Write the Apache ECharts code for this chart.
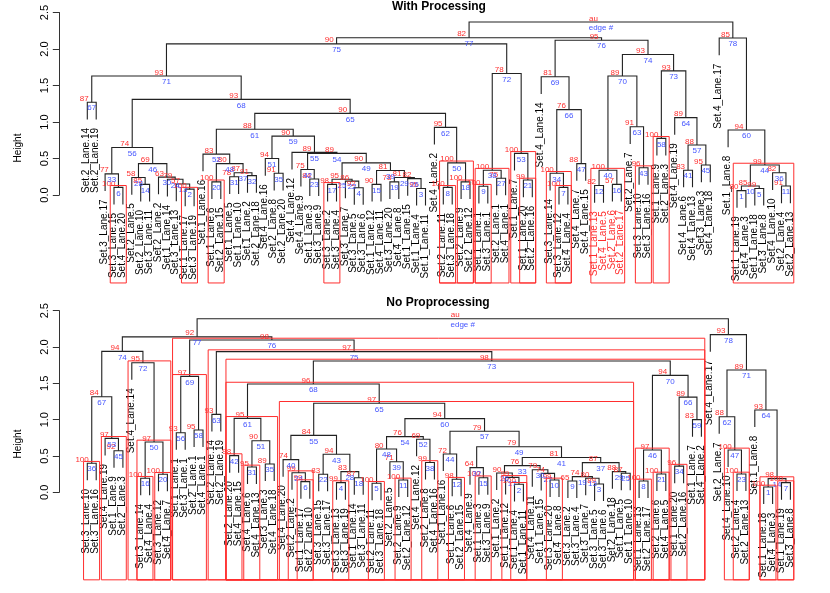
<!DOCTYPE html>
<html><head><meta charset="utf-8">
<style>html,body{margin:0;padding:0;background:#fff}#c{width:830px;height:593px}</style>
<script src="https://cdn.jsdelivr.net/npm/echarts@6/dist/echarts.min.js"></script>
</head><body><div id="c"></div>
<script>
const heightTicks = ['0.0','0.5','1.0','1.5','2.0','2.5'];
const titles = ['With Processing','No Proprocessing'];

const topLeaves = ['Set.2_Lane.14','Set.2_Lane.19','Set.3_Lane.17','Set.3_Lane.15','Set.4_Lane.20','Set.2_Lane.5','Set.2_Lane.10','Set.3_Lane.11','Set.2_Lane.2','Set.1_Lane.14','Set.3_Lane.13','Set.1_Lane.17','Set.3_Lane.19','Set.1_Lane.16','Set.1_Lane.6','Set.2_Lane.15','Set.1_Lane.5','Set.1_Lane.10','Set.1_Lane.2','Set.2_Lane.18','Set.4_Lane.16','Set.2_Lane.8','Set.2_Lane.20','Set.4_Lane.12','Set.4_Lane.9','Set.1_Lane.3','Set.3_Lane.9','Set.3_Lane.2','Set.3_Lane.4','Set.3_Lane.7','Set.3_Lane.5','Set.3_Lane.6','Set.1_Lane.12','Set.4_Lane.11','Set.3_Lane.20','Set.4_Lane.8','Set.1_Lane.15','Set.1_Lane.4','Set.1_Lane.11','Set.4_Lane.2','Set.2_Lane.11','Set.3_Lane.18','Set.2_Lane.9','Set.2_Lane.12','Set.1_Lane.1','Set.3_Lane.1','Set.2_Lane.1','Set.4_Lane.1','Set.1_Lane.7','Set.1_Lane.20','Set.2_Lane.16','Set.4_Lane.14','Set.3_Lane.14','Set.3_Lane.12','Set.4_Lane.4','Set.4_Lane.7','Set.4_Lane.15','Set.1_Lane.13','Set.4_Lane.5','Set.2_Lane.6','Set.2_Lane.17','Set.2_Lane.7','Set.3_Lane.10','Set.3_Lane.16','Set.1_Lane.9','Set.2_Lane.3','Set.4_Lane.19','Set.4_Lane.6','Set.4_Lane.13','Set.3_Lane.3','Set.4_Lane.18','Set.4_Lane.17','Set.1_Lane.8','Set.1_Lane.19','Set.4_Lane.3','Set.1_Lane.18','Set.3_Lane.8','Set.4_Lane.10','Set.2_Lane.4','Set.2_Lane.13'];
const topRedLeaves = ['Set.1_Lane.13','Set.4_Lane.5','Set.2_Lane.6','Set.2_Lane.17'];

// [edge, au, height, left, right]  negative child = leaf number, positive child = edge number
const topMerges = [
[1,80,.06,-74,-75],[2,100,.08,-12,-13],[3,95,.09,-38,-39],[4,92,.10,-31,-32],[5,99,.09,-76,-77],[6,100,.105,-4,-5],[7,100,.105,-54,-55],[8,100,.105,-41,-42],[9,100,.12,-45,-46],[10,85,.123,1,5],
[11,91,.123,-79,-80],[12,82,.13,-58,-59],[13,57,.15,-11,2],[14,85,.146,-7,-8],[15,90,.146,-33,-34],[16,57,.146,-60,-61],[17,98,.146,-28,-29],[18,100,.18,-43,-44],[19,78,.18,-35,-36],[20,100,.18,-15,-16],
[21,99,.205,-50,-51],[22,86,.19,-30,4],[23,84,.22,-26,-27],[24,79,.215,-10,13],[25,95,.215,17,22],[26,82,.225,-37,3],[27,75,.23,-47,-48],[28,58,.24,-6,14],[29,81,.24,19,26],[30,63,.245,-9,24],
[31,78,.25,-17,-18],[32,91,.265,-19,-20],[33,77,.29,-3,6],[34,100,.297,-53,7],[35,91,.297,-22,-23],[36,82,.305,-78,11],[37,87,.305,31,32],[38,100,.34,9,27],[39,81,.335,15,29],[40,100,.34,12,16],
[41,83,.34,-68,-69],[42,75,.35,-25,23],[43,96,.374,-63,-64],[44,99,.41,10,36],[45,95,.41,-70,-71],[46,69,.43,28,30],[47,88,.43,-56,-57],[48,80,.43,20,37],[49,90,.44,25,39],[50,100,.44,8,18],
[51,94,.50,-21,35],[52,83,.56,-14,48],[53,100,.57,-49,21],[54,89,.57,42,49],[55,89,.584,-24,54],[56,74,.65,33,46],[57,88,.685,41,45],[58,100,.776,-65,-66],[59,90,.807,51,55],[60,94,.89,-73,44],
[61,88,.90,52,59],[62,95,.926,-40,50],[63,91,.935,-62,43],[64,89,1.06,-67,57],[65,90,1.118,61,62],[66,76,1.17,34,47],[67,87,1.27,-1,-2],[68,93,1.31,56,65],[69,81,1.62,-52,66],[70,89,1.63,40,63],
[71,93,1.63,67,68],[72,78,1.665,38,53],[73,93,1.70,58,64],[74,93,1.925,70,73],[75,90,2.07,71,72],[76,95,2.12,69,74],[77,82,2.155,75,76],[78,85,2.15,-72,60],[79,'au',2.37,77,78]];
const topBoxes = [6,2,20,17,8,18,50,9,38,53,21,34,7,40,43,58,44];

const bottomLeaves = ['Set.3_Lane.10','Set.3_Lane.16','Set.4_Lane.19','Set.1_Lane.9','Set.2_Lane.3','Set.4_Lane.14','Set.3_Lane.14','Set.4_Lane.4','Set.3_Lane.12','Set.4_Lane.7','Set.1_Lane.1','Set.3_Lane.1','Set.2_Lane.1','Set.4_Lane.1','Set.2_Lane.14','Set.2_Lane.19','Set.2_Lane.20','Set.4_Lane.15','Set.4_Lane.6','Set.4_Lane.13','Set.3_Lane.3','Set.4_Lane.18','Set.4_Lane.20','Set.2_Lane.2','Set.1_Lane.17','Set.2_Lane.10','Set.3_Lane.15','Set.3_Lane.17','Set.3_Lane.13','Set.3_Lane.19','Set.1_Lane.14','Set.3_Lane.11','Set.2_Lane.11','Set.3_Lane.18','Set.2_Lane.5','Set.2_Lane.9','Set.2_Lane.12','Set.4_Lane.12','Set.2_Lane.8','Set.4_Lane.16','Set.1_Lane.16','Set.1_Lane.6','Set.2_Lane.15','Set.4_Lane.9','Set.1_Lane.3','Set.3_Lane.9','Set.1_Lane.2','Set.1_Lane.12','Set.1_Lane.4','Set.1_Lane.11','Set.4_Lane.11','Set.1_Lane.15','Set.3_Lane.20','Set.4_Lane.8','Set.3_Lane.2','Set.3_Lane.4','Set.3_Lane.7','Set.3_Lane.5','Set.3_Lane.6','Set.2_Lane.18','Set.1_Lane.5','Set.1_Lane.10','Set.1_Lane.13','Set.2_Lane.17','Set.2_Lane.6','Set.4_Lane.5','Set.1_Lane.20','Set.2_Lane.16','Set.1_Lane.7','Set.4_Lane.2','Set.4_Lane.17','Set.2_Lane.7','Set.4_Lane.10','Set.2_Lane.4','Set.2_Lane.13','Set.1_Lane.8','Set.1_Lane.18','Set.4_Lane.3','Set.1_Lane.19','Set.3_Lane.8'];

const bottomMerges = [
[1,100,.073,-77,-78],[2,100,.11,-49,-50],[3,89,.115,-58,-59],[4,99,.133,-29,-30],[5,100,.124,-33,-34],[6,99,.147,-25,-26],[7,100,.133,-79,-80],[8,100,.156,-63,-64],[9,65,.156,-55,-56],[10,99,.17,-53,-54],
[11,100,.17,-36,-37],[12,98,.18,-42,-43],[13,80,.193,-57,3],[14,98,.188,1,7],[15,100,.2,-45,-46],[16,100,.193,-7,-8],[17,99,.205,-48,2],[18,87,.2,-31,-32],[19,74,.216,9,13],[20,100,.248,-9,-10],
[21,100,.252,-65,-66],[22,83,.248,-27,-28],[23,100,.252,-74,-75],[24,99,.27,-24,6],[25,87,.262,-61,-62],[26,90,.265,-47,17],[27,74,.26,-52,10],[28,83,.284,4,18],[29,88,.284,-60,25],[30,79,.31,-51,27],
[31,95,.349,-19,-20],[32,64,.34,-44,15],[33,76,.367,26,30],[34,96,.36,-67,-68],[35,89,.39,-21,-22],[36,100,.40,-1,-2],[37,87,.408,19,29],[38,99,.41,-39,-40],[39,71,.42,-35,11],[40,74,.45,-23,24],
[41,81,.48,33,37],[42,98,.505,-17,-18],[43,94,.523,22,28],[44,72,.527,-41,12],[45,92,.573,-4,-5],[46,97,.583,8,21],[47,100,.583,-73,23],[48,80,.596,5,39],[49,79,.628,32,41],[50,97,.693,16,20],
[51,90,.71,31,35],[52,69,.73,-38,38],[53,97,.743,-3,45],[54,76,.766,48,52],[55,84,.784,40,43],[56,93,.82,-11,-12],[57,79,.84,44,49],[58,95,.858,-13,-14],[59,83,1.0,-69,-70],[60,94,1.014,54,57],
[61,95,1.018,42,51],[62,88,1.04,-72,47],[63,93,1.073,-15,-16],[64,93,1.133,-76,14],[65,97,1.225,55,60],[66,89,1.31,34,59],[67,84,1.316,36,53],[68,96,1.49,61,65],[69,97,1.596,56,58],[70,94,1.61,46,66],
[71,89,1.683,62,64],[72,95,1.784,-6,50],[73,98,1.807,68,70],[74,94,1.94,67,72],[75,97,1.936,63,73],[76,98,2.096,69,75],[77,92,2.14,74,76],[78,93,2.17,-71,71],[79,'au',2.39,77,78]];
const bottomBoxes = [36,53,72,50,16,20,69,76,75,73,68,61,42,31,65,24,6,4,5,11,38,12,15,17,2,10,46,8,21,34,47,23,1,7,14];

const FONT = '"Liberation Sans", Arial, sans-serif';
const HANG = 0.235, RECT_FLOOR = -1.205;
const RED = '#ff2e2e', BLUE = '#4455ff', LINE = '#222';

function buildPanel(merges, boxes, leaves, redLeaves, gridIndex) {
  const byEdge = new Map(merges.map(m => [m[0], m]));
  const X = id => id < 0 ? -id : (X(byEdge.get(id)[3]) + X(byEdge.get(id)[4])) / 2;
  const span = id => id < 0 ? [-id, -id] : [Math.min(span(byEdge.get(id)[3])[0], span(byEdge.get(id)[4])[0]),
                                           Math.max(span(byEdge.get(id)[3])[1], span(byEdge.get(id)[4])[1])];
  const branchData = [], auData = [], edgeData = [], leafData = [];
  merges.forEach(m => {
    const [edge, au, h, l, r] = m;
    const hl = l < 0 ? h - HANG : byEdge.get(l)[2];
    const hr = r < 0 ? h - HANG : byEdge.get(r)[2];
    branchData.push([X(l), h, X(r), hl, hr]);
    const cx = X(edge);
    auData.push({value: [cx, h], label: String(au)});
    edgeData.push({value: [cx, h], label: edge === 79 ? 'edge #' : String(edge)});
    if (l < 0) leafData.push({value: [-l, h - HANG], label: leaves[-l - 1]});
    if (r < 0) leafData.push({value: [-r, h - HANG], label: leaves[-r - 1]});
  });
  const boxData = boxes.map(e => { const s = span(e); return [s[0], byEdge.get(e)[2], s[1]]; });
  const axes = {xAxisIndex: gridIndex, yAxisIndex: gridIndex, coordinateSystem: 'cartesian2d', silent: true, animation: false};
  const text = (x, y, t, extra) => ({type: 'text', x, y, silent: true,
    style: Object.assign({text: t, fontFamily: FONT}, extra)});
  return [
    Object.assign({type: 'custom', data: branchData, z: 2, renderItem(p, api) {
      const a = api.coord([api.value(0), api.value(1)]), b = api.coord([api.value(2), api.value(1)]);
      const c = api.coord([api.value(0), api.value(3)]), d = api.coord([api.value(2), api.value(4)]);
      return {type: 'polyline', shape: {points: [c, a, b, d]}, style: {stroke: LINE, lineWidth: 1.1, fill: null}};
    }}, axes),
    Object.assign({type: 'custom', data: leafData, z: 3, renderItem(p, api) {
      const c = api.coord([api.value(0), api.value(1)]);
      const lab = leafData[p.dataIndex].label;
      return Object.assign(text(c[0] - 0.6, c[1] + 8.5, lab, {fontSize: 10, fill: redLeaves.includes(lab) ? RED : '#000',
        align: 'right', verticalAlign: 'middle'}), {rotation: Math.PI / 2});
    }}, axes),
    Object.assign({type: 'custom', data: auData, z: 4, renderItem(p, api) {
      const c = api.coord([api.value(0), api.value(1)]);
      return text(c[0] - 3, c[1] - 3.6, auData[p.dataIndex].label, {fontSize: 8, fill: RED, align: 'right', verticalAlign: 'middle'});
    }}, axes),
    Object.assign({type: 'custom', data: edgeData, z: 4, renderItem(p, api) {
      const c = api.coord([api.value(0), api.value(1)]);
      return text(c[0], c[1] + 6, edgeData[p.dataIndex].label, {fontSize: 8, fill: BLUE, align: 'center', verticalAlign: 'middle'});
    }}, axes),
    Object.assign({type: 'custom', data: boxData, z: 5, renderItem(p, api) {
      const a = api.coord([api.value(0) - 0.42, api.value(1) + 0.025]);
      const b = api.coord([api.value(2) + 0.38, RECT_FLOOR]);
      return {type: 'rect', shape: {x: a[0], y: a[1], width: b[0] - a[0], height: b[1] - a[1]},
        style: {stroke: RED, lineWidth: 1, fill: null}};
    }}, axes)
  ];
}

const yAxisFor = i => ({gridIndex: i, type: 'value', min: 0, max: 2.5, interval: 0.5, position: 'left', offset: 28,
  axisLine: {show: true, onZero: false, lineStyle: {color: '#333', width: 1}},
  axisTick: {show: true, length: 6.5, lineStyle: {color: '#333', width: 1}},
  splitLine: {show: false},
  axisLabel: {rotate: 90, margin: 9, fontSize: 11, fontFamily: FONT, color: '#000',
    formatter: v => heightTicks[Math.round(v * 2)]}});
const xAxisFor = i => ({gridIndex: i, type: 'value', min: 1, max: 80, show: false});
const heightLabel = y => ({type: 'text', x: 18.5, y, rotation: Math.PI / 2, silent: true,
  style: {text: 'Height', fontFamily: FONT, fontSize: 10, fill: '#000', align: 'center', verticalAlign: 'middle'}});

const chart = echarts.init(document.getElementById('c'), null, {width: 830, height: 593});
chart.setOption({
  animation: false, backgroundColor: '#fff',
  title: [
    {text: titles[0], left: 439, top: 1, textAlign: 'center', padding: 0, textStyle: {fontFamily: FONT, fontSize: 12, fontWeight: 'bold', color: '#000'}},
    {text: titles[1], left: 438, top: 297, textAlign: 'center', padding: 0, textStyle: {fontFamily: FONT, fontSize: 12, fontWeight: 'bold', color: '#000'}}
  ],
  grid: [
    {left: 87.3, width: 703.1, top: 12.5, height: 182.5},
    {left: 87.3, width: 703.1, top: 310.7, height: 181.6}
  ],
  xAxis: [xAxisFor(0), xAxisFor(1)],
  yAxis: [yAxisFor(0), yAxisFor(1)],
  graphic: [heightLabel(148), heightLabel(444)],
  series: [...buildPanel(topMerges, topBoxes, topLeaves, topRedLeaves, 0),
           ...buildPanel(bottomMerges, bottomBoxes, bottomLeaves, [], 1)]
});
</script></body></html>
